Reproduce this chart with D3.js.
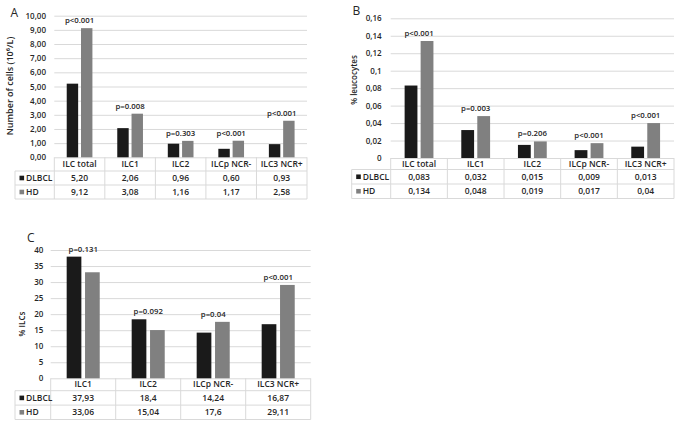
<!DOCTYPE html>
<html>
<head>
<meta charset="utf-8">
<script src="https://cdn.jsdelivr.net/npm/d3@7"></script>
<style>
  body { margin: 0; background: #fff; }
  text { font-family: "Open Sans", Lato, sans-serif; fill: #262626; }
</style>
</head>
<body>
<svg id="chart" width="681" height="425"></svg>
<script>
// Data
const series = ["DLBCL", "HD"];
const categoriesAB = ["ILC total", "ILC1", "ILC2", "ILCp NCR-", "ILC3 NCR+"];
const categoriesC = ["ILC1", "ILC2", "ILCp NCR-", "ILC3 NCR+"];

const cellsDLBCL = [5.20, 2.06, 0.96, 0.60, 0.93];
const cellsHD = [9.12, 3.08, 1.16, 1.17, 2.58];
const cellsP = ["p<0.001", "p=0.008", "p=0.303", "p<0.001", "p<0.001"];
const cellsTicks = ["0,00", "1,00", "2,00", "3,00", "4,00", "5,00", "6,00", "7,00", "8,00", "9,00", "10,00"];

const leucoDLBCL = [0.083, 0.032, 0.015, 0.009, 0.013];
const leucoHD = [0.134, 0.048, 0.019, 0.017, 0.04];
const leucoP = ["p<0.001", "p=0.003", "p=0.206", "p<0.001", "p<0.001"];
const leucoTicks = ["0", "0,02", "0,04", "0,06", "0,08", "0,1", "0,12", "0,14", "0,16"];

const ilcDLBCL = [37.93, 18.4, 14.24, 16.87];
const ilcHD = [33.06, 15.04, 17.6, 29.11];
const ilcP = ["p=0.131", "p=0.092", "p=0.04", "p<0.001"];
const ilcTicks = ["0", "5", "10", "15", "20", "25", "30", "35", "40"];

const colours = { DLBCL: "#1a1a1a", HD: "#808080" };
const gridColour = "#d9d9d9";
const font = "'Open Sans', Lato, sans-serif";

const svg = d3.select("#chart");

const commaNum = s => +s.replace(",", ".");
const fixed2 = v => d3.format(".2f")(v).replace(".", ",");
const general = v => String(v).replace(".", ",");

function drawPanel(cfg) {
    const g = svg.append("g");
    const tickVals = cfg.ticks.map(commaNum);

    const x = d3.scaleBand()
        .domain(cfg.categories)
        .range([cfg.left, cfg.right]);
    const xs = d3.scaleBand()
        .domain(series)
        .range([0, x.bandwidth()])
        .paddingInner(0.2)
        .paddingOuter(0.87);
    const y = d3.scaleLinear()
        .domain([0, d3.max(tickVals)])
        .range([cfg.bottom, cfg.top]);

    // Gridlines and tick labels
    g.append("g")
        .attr("transform", `translate(${cfg.left},0)`)
        .call(d3.axisLeft(y)
            .tickValues(tickVals)
            .tickFormat((d, i) => cfg.ticks[i])
            .tickSize(-(cfg.right - cfg.left))
            .tickPadding(cfg.left - cfg.tickRight))
        .call(a => a.select(".domain").remove())
        .call(a => a.selectAll("line").attr("stroke", gridColour))
        .call(a => a.selectAll("text")
            .attr("fill", "#262626")
            .style("font-family", font)
            .style("font-size", "8px")
            .style("font-weight", 600));

    // Bars
    const rows = cfg.categories.map((c, i) => ({
        cat: c,
        p: cfg.pvals[i],
        vals: [{ s: "DLBCL", v: cfg.dlbcl[i] }, { s: "HD", v: cfg.hd[i] }]
    }));

    const grp = g.selectAll(".cat")
        .data(rows)
        .enter()
        .append("g")
        .attr("transform", d => `translate(${x(d.cat)},0)`);

    grp.selectAll("rect")
        .data(d => d.vals)
        .enter()
        .append("rect")
        .attr("x", d => xs(d.s))
        .attr("y", d => y(d.v))
        .attr("width", xs.bandwidth())
        .attr("height", d => cfg.bottom - y(d.v))
        .attr("fill", d => colours[d.s]);

    // p-value labels
    grp.append("text")
        .attr("x", x.bandwidth() / 2)
        .attr("y", d => y(d3.max(d.vals, v => v.v)) - 5)
        .attr("text-anchor", "middle")
        .style("font-size", "7.8px")
        .style("font-weight", 600)
        .text(d => d.p);

    // Data table
    const hdrBottom = cfg.bottom + cfg.headerH;
    const r1 = hdrBottom + cfg.rowH;
    const r2 = r1 + cfg.rowH;
    const lines = g.append("g").attr("stroke", gridColour).attr("stroke-width", 1);
    x.domain().forEach(c => {
        lines.append("line").attr("x1", x(c)).attr("x2", x(c)).attr("y1", cfg.bottom).attr("y2", r2);
    });
    lines.append("line").attr("x1", cfg.right).attr("x2", cfg.right).attr("y1", cfg.bottom).attr("y2", r2);
    lines.append("line").attr("x1", cfg.legendLeft).attr("x2", cfg.legendLeft).attr("y1", hdrBottom).attr("y2", r2);
    [hdrBottom, r1, r2].forEach(yy => {
        lines.append("line").attr("x1", cfg.legendLeft).attr("x2", cfg.right).attr("y1", yy).attr("y2", yy);
    });

    // header labels
    g.selectAll(".hdr")
        .data(cfg.categories)
        .enter()
        .append("text")
        .attr("x", d => x(d) + x.bandwidth() / 2)
        .attr("y", (cfg.bottom + hdrBottom) / 2)
        .attr("dy", "0.35em")
        .attr("text-anchor", "middle")
        .style("font-size", "8.5px")
        .style("font-weight", 600)
        .text(d => d);

    // series rows
    const rowMid = [(hdrBottom + r1) / 2, (r1 + r2) / 2];
    series.forEach((s, si) => {
        const vals = si === 0 ? cfg.dlbcl : cfg.hd;
        g.append("rect")
            .attr("x", cfg.legendLeft + 4.5)
            .attr("y", rowMid[si] - 2.3)
            .attr("width", 4.6)
            .attr("height", 4.6)
            .attr("fill", colours[s]);
        g.append("text")
            .attr("x", cfg.legendLeft + 11)
            .attr("y", rowMid[si])
            .attr("dy", "0.35em")
            .style("font-size", "8.5px")
            .style("font-weight", 600)
            .text(s);
        g.selectAll(".val" + si)
            .data(cfg.categories)
            .enter()
            .append("text")
            .attr("x", d => x(d) + x.bandwidth() / 2)
            .attr("y", rowMid[si])
            .attr("dy", "0.35em")
            .attr("text-anchor", "middle")
            .style("font-size", "8.5px")
            .style("font-weight", 600)
            .text((d, i) => cfg.fmt(vals[i]));
    });

    // Y title
    g.append("text")
        .attr("transform", `translate(${cfg.titleX},${cfg.titleY}) rotate(-90)`)
        .attr("text-anchor", "middle")
        .attr("dy", "0.35em")
        .style("font-size", cfg.titleSize)
        .style("font-weight", 600)
        .text(cfg.title);

    // Panel letter
    g.append("text")
        .attr("x", cfg.letterX)
        .attr("y", cfg.letterY)
        .style("font-size", "12px")
        .text(cfg.letter);
}

drawPanel({
    letter: "A", letterX: 10.5, letterY: 17,
    title: "Number of cells  (10\u2076/L)", titleX: 10, titleY: 86, titleSize: "9px",
    categories: categoriesAB, dlbcl: cellsDLBCL, hd: cellsHD, pvals: cellsP, ticks: cellsTicks, fmt: fixed2,
    left: 54.3, right: 307, top: 15.7, bottom: 157.3, tickRight: 46,
    legendLeft: 15, headerH: 13.7, rowH: 14
});

drawPanel({
    letter: "B", letterX: 352.5, letterY: 15,
    title: "% leucocytes", titleX: 354, titleY: 80, titleSize: "8px",
    categories: categoriesAB, dlbcl: leucoDLBCL, hd: leucoHD, pvals: leucoP, ticks: leucoTicks, fmt: general,
    left: 390.7, right: 674, top: 18.3, bottom: 158, tickRight: 381.7,
    legendLeft: 351.7, headerH: 11.5, rowH: 14.5
});

drawPanel({
    letter: "C", letterX: 27, letterY: 242,
    title: "% ILCs", titleX: 21.7, titleY: 324, titleSize: "8px",
    categories: categoriesC, dlbcl: ilcDLBCL, hd: ilcHD, pvals: ilcP, ticks: ilcTicks, fmt: general,
    left: 50.7, right: 310.7, top: 250, bottom: 378.3, tickRight: 43.3,
    legendLeft: 15, headerH: 12.4, rowH: 14.4
});
</script>
</body>
</html>
